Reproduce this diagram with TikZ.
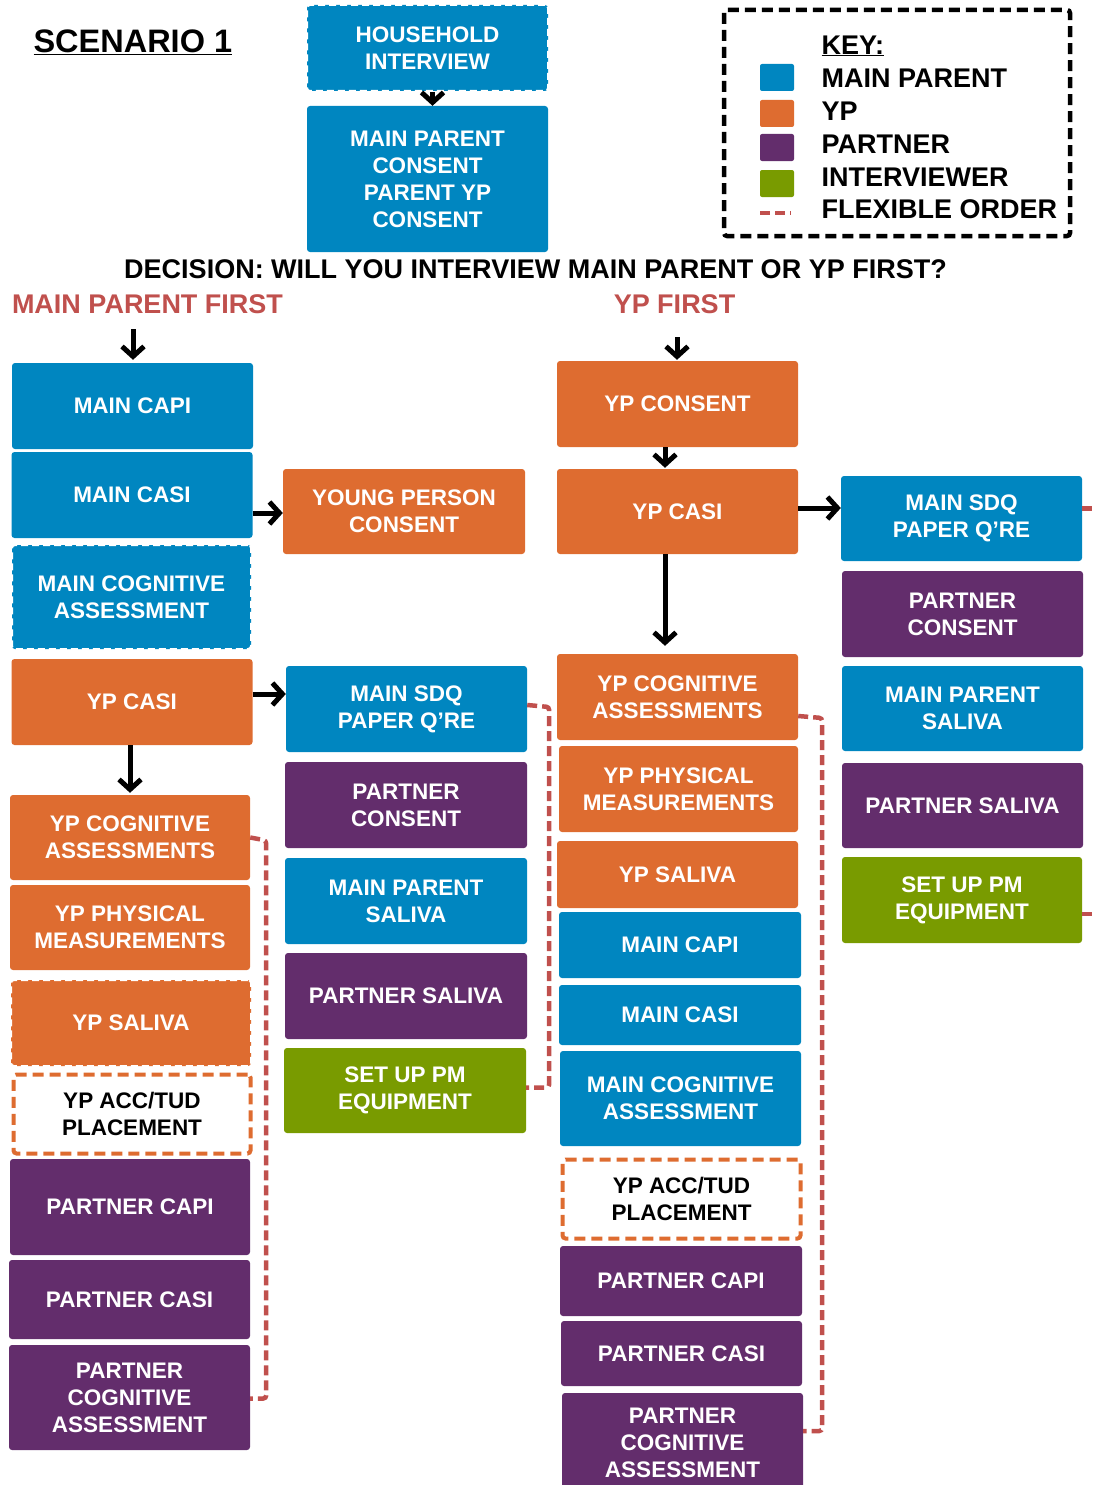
\documentclass[tikz,border=0pt]{standalone}
\usepackage{fontspec}
\setmainfont{Liberation Sans}
\usetikzlibrary{arrows.meta}
\definecolor{mainblue}{RGB}{0,134,192}
\definecolor{yporange}{RGB}{222,108,48}
\definecolor{ptpurple}{RGB}{99,45,108}
\definecolor{ivgreen}{RGB}{121,155,0}
\definecolor{flexred}{RGB}{192,80,77}
\newcommand\bxfont{\bfseries\fontsize{22.5}{27}\selectfont}
\newcommand\hdfont{\bfseries\fontsize{27}{32}\selectfont}
\begin{document}
\begin{tikzpicture}[x=1pt, y=-1pt, >={Straight Barb[length=10pt,width=22pt]},
    blk/.style={rectangle, rounded corners=3pt, align=center, text=white, font=\bxfont,
        inner sep=0pt, minimum width=241pt, minimum height=86pt},
    mp/.style={blk, fill=mainblue},
    yp/.style={blk, fill=yporange},
    partner/.style={blk, fill=ptpurple},
    iv/.style={blk, fill=ivgreen},
    wdash/.style={draw=white, line width=2pt, dash pattern=on 7pt off 4pt},
    acc/.style={blk, fill=white, text=black, draw=yporange, line width=4pt, dash pattern=on 11pt off 6pt},
    flex/.style={draw=flexred, line width=4.5pt, dash pattern=on 10pt off 5pt, rounded corners=3pt},
    arr/.style={->, line width=5pt}]
\useasboundingbox (0,0) rectangle (1094,1485);

\node[anchor=west, font=\bfseries\fontsize{32.5}{38}\selectfont] (title) at (30,42) {\underline{SCENARIO 1}};

% key
\draw[line width=4.5pt, dash pattern=on 11pt off 6pt, rounded corners=3pt] (724,10) rectangle (1070,236);
\node[anchor=west, font=\hdfont] (key) at (818,46) {\underline{KEY:}};
\node[anchor=west, font=\hdfont] (kmp) at (818,78) {MAIN PARENT};
\node[anchor=west, font=\hdfont] (kyp) at (818,111) {YP};
\node[anchor=west, font=\hdfont] (kpt) at (818,144) {PARTNER};
\node[anchor=west, font=\hdfont] (kiv) at (818,177) {INTERVIEWER};
\node[anchor=west, font=\hdfont] (kfx) at (818,209) {FLEXIBLE ORDER};
\fill[mainblue, rounded corners=2pt] (760,64) rectangle (794,91);
\fill[yporange, rounded corners=2pt] (760,100) rectangle (794,127);
\fill[ptpurple, rounded corners=2pt] (760,134) rectangle (794,161);
\fill[ivgreen, rounded corners=2pt] (760,170) rectangle (794,197);
\draw[flex] (760,213) -- (791,213);

% top
\node[mp, wdash] (hh) at (427.5,48) {HOUSEHOLD\\INTERVIEW};
\node[mp, minimum height=146pt] (mpc) at (427.5,179) {MAIN PARENT\\CONSENT\\PARENT YP\\CONSENT};
\draw[arr] ([xshift=5pt]hh.south) -- ([xshift=5pt]mpc.north);

\node[font=\hdfont] (dec) at (535.5,269) {DECISION: WILL YOU INTERVIEW MAIN PARENT OR YP FIRST?};
\node[font=\hdfont, text=flexred] (mpf) at (147.5,304) {MAIN PARENT FIRST};
\node[font=\hdfont, text=flexred] (ypf) at (674.5,304) {YP FIRST};

% main parent first
\node[mp] (lcapi) at (132.5,406) {MAIN CAPI};
\node[mp] (lcasi) at (132,495) {MAIN CASI};
\node[mp, wdash, minimum width=239pt, minimum height=104pt] (lcog) at (131.5,597) {MAIN COGNITIVE\\ASSESSMENT};
\node[yp] (lypcasi) at (132,702) {YP CASI};
\node[yp, minimum width=240pt, minimum height=85pt] (lypcog) at (130,837.5) {YP COGNITIVE\\ASSESSMENTS};
\node[yp, minimum width=240pt, minimum height=85pt] (lypphys) at (130,927.5) {YP PHYSICAL\\MEASUREMENTS};
\node[yp, wdash, minimum width=240pt] (lypsal) at (131,1023) {YP SALIVA};
\node[acc, minimum width=237pt, minimum height=79pt] (lacc) at (132,1114) {YP ACC/TUD\\PLACEMENT};
\node[partner, minimum width=240pt, minimum height=96pt] (lpcapi) at (130,1207) {PARTNER CAPI};
\node[partner, minimum height=79pt] (lpcasi) at (129.5,1299.5) {PARTNER CASI};
\node[partner, minimum height=105pt] (lpcog) at (129.5,1397.5) {PARTNER\\COGNITIVE\\ASSESSMENT};

\node[yp, minimum width=242pt, minimum height=85pt] (ypcons) at (404,511.5) {YOUNG PERSON\\CONSENT};
\node[mp] (msdq) at (406.5,709) {MAIN SDQ\\PAPER Q’RE};
\node[partner, minimum width=242pt] (pcons) at (406,805) {PARTNER\\CONSENT};
\node[mp, minimum width=242pt] (mpsal) at (406,901) {MAIN PARENT\\SALIVA};
\node[partner, minimum width=242pt] (psal) at (406,996) {PARTNER SALIVA};
\node[iv, minimum width=242pt, minimum height=85pt] (setup) at (405,1090.5) {SET UP PM\\EQUIPMENT};

\draw[arr, shorten <=12pt, shorten >=3pt] (mpf.south -| 133,0) -- (lcapi.north -| 133,0);
\draw[arr] (lcasi.east |- 0,513) -- (ypcons.west |- 0,513);
\draw[arr] (lypcasi.east |- 0,694) -- (msdq.west |- 0,694);
\draw[arr, shorten >=2pt] (lypcasi.south -| 130,0) -- (lypcog.north);
\draw[flex] (lypcog.east) -- ++(16,3) |- ([yshift=-1pt]lpcog.east);
\draw[flex] ([yshift=4pt]msdq.east) -- ++(22,2) |- ([yshift=3pt]setup.east);

% yp first
\node[yp] (rypcons) at (677.5,404) {YP CONSENT};
\node[yp, minimum height=85pt] (rypcasi) at (677.5,511.5) {YP CASI};
\node[yp] (rypcog) at (677.5,697) {YP COGNITIVE\\ASSESSMENTS};
\node[yp, minimum width=239pt] (rypphys) at (678.5,789) {YP PHYSICAL\\MEASUREMENTS};
\node[yp, minimum height=67pt] (rypsal) at (677.5,874.5) {YP SALIVA};
\node[mp, minimum width=242pt, minimum height=66pt] (rmcapi) at (680,945) {MAIN CAPI};
\node[mp, minimum width=242pt, minimum height=60pt] (rmcasi) at (680,1015) {MAIN CASI};
\node[mp, minimum height=95pt] (rmcog) at (680.5,1098.5) {MAIN COGNITIVE\\ASSESSMENT};
\node[acc, minimum width=238pt, minimum height=79pt] (racc) at (681.5,1199) {YP ACC/TUD\\PLACEMENT};
\node[partner, minimum width=242pt, minimum height=70pt] (rpcapi) at (681,1281) {PARTNER CAPI};
\node[partner, minimum height=65pt] (rpcasi) at (681.5,1353.5) {PARTNER CASI};
\node[partner, minimum height=100pt] (rpcog) at (682.5,1443) {PARTNER\\COGNITIVE\\ASSESSMENT};

\node[mp, minimum height=85pt] (fsdq) at (961.5,518.5) {MAIN SDQ\\PAPER Q’RE};
\node[partner] (fpcons) at (962.5,614) {PARTNER\\CONSENT};
\node[mp, minimum height=85pt] (fmpsal) at (962.5,708.5) {MAIN PARENT\\SALIVA};
\node[partner, minimum height=85pt] (fpsal) at (962.5,805.5) {PARTNER SALIVA};
\node[iv, minimum width=240pt] (fsetup) at (962,900) {SET UP PM\\EQUIPMENT};

\draw[arr, shorten <=20pt, shorten >=1pt] (ypf.south -| 677,0) -- (rypcons.north -| 677,0);
\draw[arr, shorten >=1pt] (rypcons.south -| 665,0) -- (rypcasi.north -| 665,0);
\draw[arr, shorten >=8pt] (rypcasi.south -| 665,0) -- (rypcog.north -| 665,0);
\draw[arr] (rypcasi.east |- 0,508) -- (fsdq.west |- 0,508);
\draw[flex] ([yshift=-19pt]rypcog.east) -- ++(24,2) |- ([yshift=12pt]rpcog.east);
\draw[flex] ([yshift=10pt]fsdq.east) -- ++(14,0);
\draw[flex] ([yshift=-14pt]fsetup.east) -- ++(14,0);
\end{tikzpicture}
\end{document}
